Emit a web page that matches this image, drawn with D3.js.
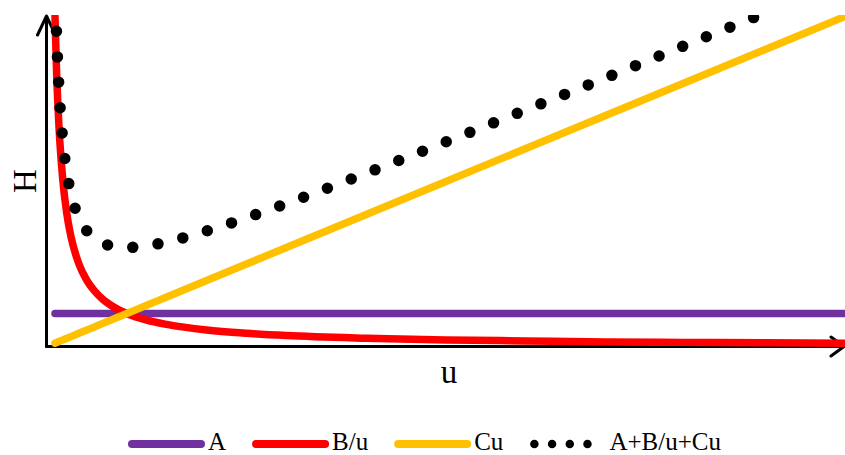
<!DOCTYPE html>
<html>
<head>
<meta charset="utf-8">
<script src="https://cdn.jsdelivr.net/npm/d3@7"></script>
<style>
  body { margin: 0; background: #fff; }
  text { font-family: "Liberation Serif", "Times New Roman", serif; fill: #000; }
</style>
</head>
<body>
<svg width="845" height="455"></svg>
<script>
// flow velocity u and the three van Deemter terms
var uVals   = [0.1, 0.12, 0.15, 0.2, 0.25, 0.3, 0.4, 0.5, 0.6, 0.7, 0.8, 0.9, 1, 1.25, 1.5, 2, 2.5, 3, 4, 5, 6, 7, 8, 9, 10];
var aVals   = [1, 1, 1, 1, 1, 1, 1, 1, 1, 1, 1, 1, 1, 1, 1, 1, 1, 1, 1, 1, 1, 1, 1, 1, 1];
var buVals  = [10, 8.33, 6.67, 5, 4, 3.33, 2.5, 2, 1.67, 1.43, 1.25, 1.11, 1, 0.8, 0.67, 0.5, 0.4, 0.33, 0.25, 0.2, 0.17, 0.14, 0.125, 0.11, 0.1];
var cuVals  = [0.1, 0.12, 0.15, 0.2, 0.25, 0.3, 0.4, 0.5, 0.6, 0.7, 0.8, 0.9, 1, 1.25, 1.5, 2, 2.5, 3, 4, 5, 6, 7, 8, 9, 10];
var sumVals = [11.1, 9.45, 7.82, 6.2, 5.25, 4.63, 3.9, 3.5, 3.27, 3.13, 3.05, 3.01, 3, 3.05, 3.17, 3.5, 3.9, 4.33, 5.25, 6.2, 7.17, 8.14, 9.13, 10.11, 11.1];
var seriesNames = ["A", "B/u", "Cu", "A+B/u+Cu"];

var svg = d3.select("svg");

var x = d3.scaleLinear().domain([0, 10]).range([47, 845]);
var y = d3.scaleLinear().domain([0, 10]).range([346.5, 16.5]);

var series = [
  {name: seriesNames[0], vals: aVals,   color: "#7030A0", dotted: false},
  {name: seriesNames[1], vals: buVals,  color: "#FF0000", dotted: false},
  {name: seriesNames[2], vals: cuVals,  color: "#FFC000", dotted: false},
  {name: seriesNames[3], vals: sumVals, color: "#000000", dotted: true}
];

svg.append("clipPath").attr("id", "plot")
  .append("rect")
  .attr("x", 40).attr("y", 15)
  .attr("width", 810).attr("height", 340);

// axes with open arrow heads
var axes = svg.append("g")
  .attr("fill", "none")
  .attr("stroke", "#000")
  .attr("stroke-width", 3)
  .attr("stroke-linecap", "round")
  .attr("stroke-linejoin", "round");

var x0 = x(0) - 0.5, y0 = y(0);
axes.append("path")
  .attr("d", "M" + x0 + "," + y0 + "V16 M" + (x0 - 9) + ",35 L" + x0 + ",16 L" + (x0 + 9) + ",35");
axes.append("path")
  .attr("d", "M" + x0 + "," + y0 + "H844 M831,337 L844," + y0 + " L831,356");

var line = d3.line()
  .x(function(d, i) { return x(uVals[i]); })
  .y(function(d) { return y(d); })
  .curve(d3.curveMonotoneX);

var g = svg.append("g").attr("clip-path", "url(#plot)");

g.selectAll(".series")
  .data(series)
  .enter()
  .append("path")
  .attr("class", "series")
  .attr("fill", "none")
  .attr("stroke", function(d) { return d.color; })
  .attr("stroke-width", function(d) { return d.dotted ? 11.5 : 7.5; })
  .attr("stroke-linecap", "round")
  .attr("stroke-dasharray", function(d) { return d.dotted ? "0 25.5" : null; })
  .attr("d", function(d) { return line(d.vals); });

// axis titles
svg.append("text")
  .attr("x", 449)
  .attr("y", 383)
  .attr("text-anchor", "middle")
  .style("font-size", "33px")
  .text("u");

svg.append("text")
  .attr("transform", "translate(36,181) rotate(-90)")
  .attr("text-anchor", "middle")
  .style("font-size", "33px")
  .text("H");

// legend
var legend = svg.append("g");
var lx = 128, ly = 444;
series.forEach(function(s) {
  var item = legend.append("g");
  if (s.dotted) {
    item.append("line")
      .attr("x1", lx + 5).attr("x2", lx + 59)
      .attr("y1", ly).attr("y2", ly)
      .attr("stroke", s.color)
      .attr("stroke-width", 8.5)
      .attr("stroke-linecap", "round")
      .attr("stroke-dasharray", "0 17.7");
  } else {
    item.append("line")
      .attr("x1", lx + 4).attr("x2", lx + 73)
      .attr("y1", ly).attr("y2", ly)
      .attr("stroke", s.color)
      .attr("stroke-width", 8)
      .attr("stroke-linecap", "round");
  }
  var t = item.append("text")
    .attr("x", lx + 80)
    .attr("y", 450)
    .style("font-size", "25px")
    .text(s.name);
  lx += 80 + t.node().getComputedTextLength() + 26;
});
</script>
</body>
</html>
